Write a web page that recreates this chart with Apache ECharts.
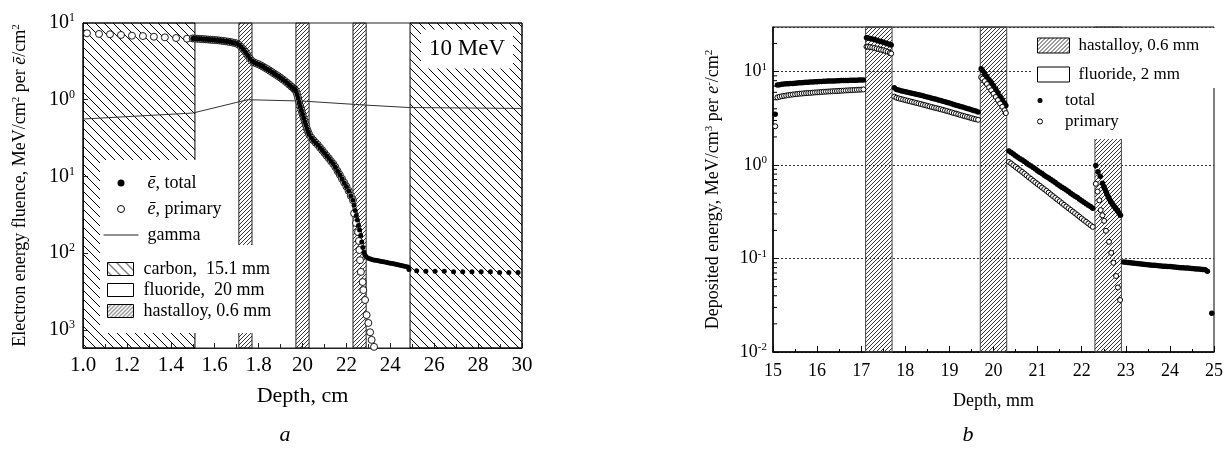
<!DOCTYPE html>
<html><head><meta charset="utf-8">
<script src="https://cdn.jsdelivr.net/npm/echarts@6/dist/echarts.min.js"></script>
<style>html,body{margin:0;padding:0;background:#fff}#c{width:1230px;height:450px}</style>
</head><body><div id="c"></div>
<script>
// ================= Panel a =================
const xTickLabelsA = ['1.0','1.2','1.4','1.6','1.8','20','22','24','26','28','30'];
const yTickValuesA = [0.001, 0.01, 0.1, 1, 10];
const yTickExpA = ['3','2','1','0','1'];
const carbonBandsA = [[1.0, 1.51], [2.49, 3.0]];
const hastBandsA = [[1.71, 1.77], [1.97, 2.03], [2.23, 2.29]];

const primarySparseXA = [1.018,1.073,1.123,1.173,1.223,1.273,1.323,1.373,1.424,1.474];
const primarySparseYA = [7.35,7.2,7.13,6.98,6.83,6.76,6.62,6.5,6.37,6.24];

const electronDenseXA = [1.50,1.51,1.52,1.53,1.54,1.55,1.56,1.57,1.58,1.59,1.60,1.61,1.62,1.63,1.64,1.65,1.66,1.67,1.68,1.69,1.70,1.71,1.72,1.73,1.74,1.75,1.76,1.77,1.78,1.79,1.80,1.81,1.82,1.83,1.84,1.85,1.86,1.87,1.88,1.89,1.90,1.91,1.92,1.93,1.94,1.95,1.96,1.965,1.97,1.975,1.98,1.985,1.99,1.995,2.00,2.005,2.01,2.015,2.02,2.025,2.03,2.04,2.05,2.06,2.07,2.08,2.09,2.10,2.11,2.12,2.13,2.14,2.15,2.16,2.17,2.18,2.19,2.20,2.21,2.22,2.23];
const electronDenseYA = [6.30,6.27,6.24,6.21,6.18,6.15,6.12,6.09,6.06,6.03,6.00,5.96,5.92,5.88,5.83,5.78,5.72,5.65,5.58,5.50,5.40,5.20,4.90,4.55,4.20,3.80,3.45,3.20,3.05,2.97,2.90,2.80,2.70,2.60,2.50,2.40,2.30,2.20,2.11,2.02,1.93,1.84,1.75,1.66,1.57,1.48,1.40,1.36,1.30,1.18,1.05,0.93,0.82,0.73,0.65,0.58,0.52,0.47,0.42,0.385,0.355,0.32,0.295,0.275,0.257,0.237,0.219,0.202,0.186,0.172,0.158,0.146,0.132,0.117,0.105,0.093,0.083,0.074,0.065,0.056,0.049];

const primaryTailXA = [2.235,2.244,2.253,2.257,2.259,2.262,2.266,2.274,2.277,2.285,2.292,2.300,2.308,2.315,2.326];
const primaryTailYA = [0.033,0.0247,0.0188,0.0144,0.011,0.0081,0.0057,0.0042,0.0033,0.00245,0.00156,0.00123,0.00093,0.00074,0.0006];

const totalTailXA = [2.235,2.24,2.245,2.25,2.255,2.26,2.265,2.27,2.275,2.28,2.285,2.29,2.30,2.31,2.32,2.33,2.34,2.35,2.36,2.37,2.38,2.39,2.40,2.41,2.42,2.43,2.44,2.45,2.46,2.47,2.48,2.485];
const totalTailYA = [0.042,0.036,0.031,0.027,0.023,0.020,0.017,0.014,0.0118,0.0102,0.0094,0.0090,0.0086,0.0084,0.0082,0.0081,0.0080,0.0079,0.0078,0.0077,0.0076,0.0075,0.0074,0.0073,0.0072,0.0071,0.0070,0.0069,0.0068,0.0067,0.0066,0.0061];

const totalSparseXA = [2.52,2.562,2.604,2.646,2.688,2.73,2.772,2.814,2.856,2.898,2.94,2.982];
const totalSparseYA = [0.0059,0.0058,0.0058,0.0058,0.0057,0.0057,0.0057,0.0057,0.0057,0.0056,0.0056,0.0056];

const gammaXA = [1.0,1.5,1.75,2.0,2.29,2.49,3.0];
const gammaYA = [0.56,0.67,1.0,0.96,0.85,0.79,0.77];

// ================= Panel b =================
const yTickValuesB = [0.01, 0.1, 1, 10];
const yTickExpB = ['-2','-1','0','1'];
const minorTickValuesB = [0.02,0.03,0.04,0.05,0.06,0.07,0.08,0.09,0.2,0.3,0.4,0.5,0.6,0.7,0.8,0.9,2,3,4,5,6,7,8,9,20];
const hastBandsB = [[17.1, 17.7], [19.7, 20.3], [22.3, 22.9]];

// depths shared by the total and primary curves
const segX1B = [15.1,15.15,15.2,15.25,15.3,15.35,15.4,15.45,15.5,15.55,15.6,15.65,15.7,15.75,15.8,15.85,15.9,15.95,16.0,16.05,16.1,16.15,16.2,16.25,16.3,16.35,16.4,16.45,16.5,16.55,16.6,16.65,16.7,16.75,16.8,16.85,16.9,16.95,17.0,17.05];
const segX2B = [17.12,17.15,17.2,17.25,17.3,17.35,17.4,17.45,17.5,17.55,17.6,17.65,17.68];
const segX3B = [17.75,17.8,17.85,17.9,17.95,18.0,18.05,18.1,18.15,18.2,18.25,18.3,18.35,18.4,18.45,18.5,18.55,18.6,18.65,18.7,18.75,18.8,18.85,18.9,18.95,19.0,19.05,19.1,19.15,19.2,19.25,19.3,19.35,19.4,19.45,19.5,19.55,19.6,19.65];
const segX4B = [19.72,19.75,19.8,19.85,19.9,19.95,20.0,20.05,20.1,20.15,20.2,20.25,20.28];
const segX5B = [20.35,20.4,20.45,20.5,20.55,20.6,20.65,20.7,20.75,20.8,20.85,20.9,20.95,21.0,21.05,21.1,21.15,21.2,21.25,21.3,21.35,21.4,21.45,21.5,21.55,21.6,21.65,21.7,21.75,21.8,21.85,21.9,21.95,22.0,22.05,22.1,22.15,22.2,22.25];

const totalY1B = [7.2,7.25,7.3,7.35,7.4,7.42,7.45,7.48,7.5,7.55,7.6,7.62,7.65,7.68,7.7,7.72,7.75,7.78,7.8,7.82,7.85,7.88,7.9,7.91,7.92,7.94,7.95,7.98,8.0,8.01,8.02,8.04,8.05,8.07,8.08,8.09,8.1,8.11,8.12,8.15];
const totalY2B = [23.0,22.9,22.6,22.3,22.0,21.7,21.3,21.0,20.6,20.25,19.9,19.5,19.3];
const totalY3B = [6.70,6.45,6.35,6.25,6.17,6.1,6.02,5.95,5.87,5.8,5.72,5.65,5.57,5.5,5.42,5.35,5.27,5.2,5.12,5.05,4.97,4.9,4.82,4.75,4.67,4.6,4.52,4.45,4.37,4.3,4.23,4.17,4.1,4.04,3.97,3.91,3.84,3.78,3.70];
const totalY4B = [10.7,10.3,9.5,8.85,8.2,7.65,7.1,6.5,5.95,5.45,5.0,4.6,4.35];
const totalY5B = [1.41,1.36,1.31,1.26,1.21,1.17,1.13,1.09,1.05,1.01,0.975,0.94,0.905,0.87,0.84,0.81,0.78,0.75,0.725,0.70,0.675,0.65,0.625,0.60,0.58,0.56,0.54,0.52,0.50,0.48,0.465,0.45,0.432,0.415,0.40,0.385,0.372,0.36,0.345];
const totalBand3XB = [22.32,22.37,22.42,22.47,22.5,22.52,22.55,22.57,22.6,22.62,22.65,22.67,22.7,22.72,22.75,22.77,22.8,22.82,22.85,22.88];
const totalBand3YB = [0.99,0.85,0.76,0.64,0.59,0.56,0.52,0.49,0.46,0.44,0.415,0.40,0.38,0.37,0.355,0.345,0.33,0.32,0.305,0.29];
const totalTailXB = [22.95,23.0,23.05,23.1,23.15,23.2,23.25,23.3,23.35,23.4,23.45,23.5,23.55,23.6,23.65,23.7,23.75,23.8,23.85,23.9,23.95,24.0,24.05,24.1,24.15,24.2,24.25,24.3,24.35,24.4,24.45,24.5,24.55,24.6,24.65,24.7,24.75,24.8,24.85,24.95];
const totalTailYB = [0.092,0.091,0.0905,0.090,0.0895,0.089,0.0885,0.088,0.0875,0.087,0.0865,0.086,0.0855,0.085,0.0845,0.084,0.0835,0.083,0.0828,0.0825,0.0822,0.082,0.0815,0.081,0.0805,0.080,0.0798,0.0795,0.0792,0.079,0.0785,0.078,0.0778,0.0775,0.0772,0.077,0.0765,0.076,0.073,0.026];
const totalFirstB = [15.05, 3.5];

const primaryY1B = [5.3,5.38,5.45,5.5,5.55,5.6,5.65,5.69,5.72,5.76,5.8,5.82,5.85,5.88,5.9,5.92,5.95,5.98,6.0,6.02,6.05,6.08,6.1,6.12,6.14,6.16,6.18,6.2,6.22,6.24,6.26,6.28,6.3,6.32,6.34,6.36,6.38,6.4,6.42,6.45];
const primaryY2B = [18.5,18.45,18.3,18.1,17.9,17.65,17.4,17.15,16.9,16.6,16.3,15.9,15.6];
const primaryY3B = [5.4,5.25,5.17,5.1,5.02,4.95,4.88,4.82,4.75,4.69,4.62,4.56,4.5,4.43,4.37,4.3,4.24,4.18,4.12,4.07,4.01,3.96,3.9,3.84,3.78,3.72,3.66,3.6,3.55,3.49,3.43,3.38,3.33,3.28,3.23,3.18,3.13,3.09,3.05];
const primaryY4B = [8.7,8.4,7.9,7.35,6.8,6.3,5.8,5.35,4.95,4.55,4.2,3.85,3.6];
const primaryY5B = [1.08,1.04,0.995,0.955,0.917,0.88,0.845,0.81,0.775,0.74,0.71,0.68,0.652,0.625,0.6,0.575,0.552,0.53,0.507,0.485,0.465,0.445,0.427,0.41,0.392,0.375,0.36,0.345,0.331,0.318,0.305,0.292,0.28,0.268,0.257,0.247,0.237,0.227,0.218];
const primaryBand3XB = [22.32,22.36,22.40,22.43,22.47,22.51,22.55,22.62,22.67,22.72,22.78,22.82,22.87];
const primaryBand3YB = [0.63,0.52,0.42,0.33,0.29,0.253,0.198,0.151,0.115,0.090,0.065,0.049,0.036];
const primaryFirstB = [15.05, 2.6];

// ================= helpers =================
const FONT = "'Liberation Serif','Times New Roman',serif";
function zip(xs, ys) { return xs.map((x, i) => [x, ys[i]]); }
function hatch(size, dir, color, lw) {
  const c = document.createElement('canvas'); c.width = size; c.height = size;
  const g = c.getContext('2d'); g.strokeStyle = color; g.lineWidth = lw; g.beginPath();
  if (dir === 'back') {
    g.moveTo(-1, -1); g.lineTo(size + 1, size + 1);
    g.moveTo(-1, size - 1); g.lineTo(1, size + 1);
    g.moveTo(size - 1, -1); g.lineTo(size + 1, 1);
  } else {
    g.moveTo(-1, size + 1); g.lineTo(size + 1, -1);
    g.moveTo(-1, 1); g.lineTo(1, -1);
    g.moveTo(size - 1, size + 1); g.lineTo(size + 1, size - 1);
  }
  g.stroke(); return c;
}
const carbonPat = { image: hatch(9, 'back', '#000', 1), repeat: 'repeat' };
const hastPat = { image: hatch(4, 'fwd', '#222', 0.9), repeat: 'repeat' };
function expLabel(values, exps) {
  return function (v) {
    const i = values.findIndex(t => Math.abs(Math.log10(t) - Math.log10(v)) < 1e-6);
    return i >= 0 ? '10{s|' + exps[i] + '}' : '';
  };
}
const bands = arr => arr.map(b => [{ xAxis: b[0] }, { xAxis: b[1] }]);

const totalDataB = [totalFirstB].concat(
  zip(segX1B, totalY1B), zip(segX2B, totalY2B), zip(segX3B, totalY3B), zip(segX4B, totalY4B), zip(segX5B, totalY5B),
  zip(totalBand3XB, totalBand3YB), zip(totalTailXB, totalTailYB));
const primaryDataB = [primaryFirstB].concat(
  zip(segX1B, primaryY1B), zip(segX2B, primaryY2B), zip(segX3B, primaryY3B), zip(segX4B, primaryY4B), zip(segX5B, primaryY5B),
  zip(primaryBand3XB, primaryBand3YB));

const chart = echarts.init(document.getElementById('c'), null, { renderer: 'canvas' });
const txt = { fontFamily: FONT, color: '#000' };

const option = {
  animation: false,
  textStyle: { fontFamily: FONT },
  grid: [
    { left: 83, top: 23, width: 439, height: 325, show: true, borderColor: '#222', borderWidth: 1, backgroundColor: 'transparent' },
    { left: 773, top: 27, width: 441, height: 325, show: true, borderColor: '#000', borderWidth: 1, backgroundColor: 'transparent' }
  ],
  xAxis: [
    { gridIndex: 0, type: 'value', min: 1, max: 3, interval: 0.2,
      axisLine: { lineStyle: { color: '#222', width: 1 } },
      axisTick: { inside: true, length: 5, lineStyle: { color: '#222' } },
      minorTick: { show: true, splitNumber: 2, length: 4, lineStyle: { color: '#222' } },
      splitLine: { show: false },
      axisLabel: Object.assign({ fontSize: 21, margin: 7, formatter: v => xTickLabelsA[Math.round((v - 1) / 0.2)] }, txt),
      name: 'Depth, cm', nameLocation: 'middle', nameGap: 37,
      nameTextStyle: Object.assign({ fontSize: 22 }, txt) },
    { gridIndex: 1, type: 'value', min: 15, max: 25, interval: 1,
      axisLine: { lineStyle: { color: '#000', width: 1.5 } },
      axisTick: { inside: true, length: 6, lineStyle: { color: '#000' } },
      minorTick: { show: true, splitNumber: 2, length: 3, lineStyle: { color: '#000' } },
      splitLine: { show: false },
      axisLabel: Object.assign({ fontSize: 18, margin: 10 }, txt),
      name: 'Depth, mm', nameLocation: 'middle', nameGap: 40,
      nameTextStyle: Object.assign({ fontSize: 18 }, txt) }
  ],
  yAxis: [
    { gridIndex: 0, type: 'log', logBase: 10, min: 0.00058, max: 10, splitNumber: 4,
      axisLine: { lineStyle: { color: '#222', width: 1 } },
      axisTick: { inside: true, length: 5, lineStyle: { color: '#222' } },
      splitLine: { show: false },
      axisLabel: Object.assign({ fontSize: 20, lineHeight: 22, margin: 8, showMinLabel: false,
        formatter: expLabel(yTickValuesA, yTickExpA),
        rich: { s: { fontSize: 12, lineHeight: 12, verticalAlign: 'top', fontFamily: FONT, color: '#000' } } }, txt),
      name: 'Electron energy fluence, MeV/cm{s|2} per {i|ē}/cm{s|2}', nameLocation: 'middle', nameGap: 54,
      nameTextStyle: Object.assign({ fontSize: 18,
        rich: { s: { fontSize: 11, lineHeight: 11, verticalAlign: 'top', fontFamily: FONT, color: '#000' },
                i: { fontSize: 18, fontStyle: 'italic', fontFamily: FONT, color: '#000' } } }, txt) },
    { gridIndex: 1, type: 'log', logBase: 10, min: 0.01, max: 30, interval: 1,
      axisLine: { lineStyle: { color: '#000', width: 1.5 } },
      axisTick: { inside: true, length: 6, lineStyle: { color: '#000' } },
      splitLine: { show: true, lineStyle: { color: '#333', type: [2, 2], width: 1 } },
      axisLabel: Object.assign({ fontSize: 18, lineHeight: 20, margin: 6, showMaxLabel: false,
        formatter: expLabel(yTickValuesB, yTickExpB),
        rich: { s: { fontSize: 11, lineHeight: 11, verticalAlign: 'top', fontFamily: FONT, color: '#000' } } }, txt),
      name: 'Deposited energy, MeV/cm{s|3} per {i|e}{s|-}/cm{s|2}', nameLocation: 'middle', nameGap: 51,
      nameTextStyle: Object.assign({ fontSize: 18,
        rich: { s: { fontSize: 11, lineHeight: 11, verticalAlign: 'top', fontFamily: FONT, color: '#000' },
                i: { fontSize: 18, fontStyle: 'italic', fontFamily: FONT, color: '#000' } } }, txt) }
  ],
  legend: [
    { orient: 'vertical', left: 100, top: 160, selectedMode: false, backgroundColor: '#fff',
      padding: [13, 8, 6, 3], itemWidth: 35, itemHeight: 7, itemGap: 6,
      textStyle: { fontSize: 18, lineHeight: 20, fontFamily: FONT, color: '#000', padding: [0, 0, 0, 4],
        rich: { i: { fontSize: 18, fontStyle: 'italic', fontFamily: FONT, color: '#000' } } },
      formatter: n => n.replace('ē', '{i|ē}'),
      data: [
        { name: 'ē, total', icon: 'circle', itemStyle: { color: '#000', borderWidth: 0 } },
        { name: 'ē, primary', icon: 'circle', itemStyle: { color: '#fff', borderColor: '#000', borderWidth: 1 } },
        { name: 'gamma', itemStyle: { opacity: 0 }, lineStyle: { color: '#222', width: 1 } }
      ] },
    { orient: 'vertical', left: 100, top: 245, selectedMode: false, backgroundColor: '#fff',
      padding: [15, 10, 13, 7], itemWidth: 26, itemHeight: 13, itemGap: 3,
      textStyle: { fontSize: 18, lineHeight: 18, fontFamily: FONT, color: '#000', padding: [0, 0, 0, 5] },
      data: [
        { name: 'carbon,  15.1 mm', icon: 'rect', itemStyle: { color: carbonPat, borderColor: '#000', borderWidth: 1 } },
        { name: 'fluoride,  20 mm', icon: 'rect', itemStyle: { color: '#fff', borderColor: '#000', borderWidth: 1 } },
        { name: 'hastalloy, 0.6 mm', icon: 'rect', itemStyle: { color: hastPat, borderColor: '#000', borderWidth: 1 } }
      ] },
    { orient: 'vertical', left: 1033, top: 28, selectedMode: false, backgroundColor: '#fff',
      padding: [9, 14, 5, 4], itemWidth: 32, itemHeight: 15, itemGap: 12,
      textStyle: { fontSize: 17, lineHeight: 17, fontFamily: FONT, color: '#000', padding: [0, 0, 0, 4] },
      data: [
        { name: 'hastalloy, 0.6 mm ', icon: 'rect', itemStyle: { color: hastPat, borderColor: '#000', borderWidth: 1 } },
        { name: 'fluoride, 2 mm', icon: 'rect', itemStyle: { color: '#fff', borderColor: '#000', borderWidth: 1 } }
      ] },
    { orient: 'vertical', left: 1033, top: 88, selectedMode: false, backgroundColor: '#fff',
      padding: [4, 86, 9, 4], itemWidth: 32, itemHeight: 5, itemGap: 4,
      textStyle: { fontSize: 17, lineHeight: 17, fontFamily: FONT, color: '#000', padding: [0, 0, 0, 4] },
      data: [
        { name: 'total', icon: 'circle', itemStyle: { color: '#000', borderWidth: 0 } },
        { name: 'primary', icon: 'circle', itemStyle: { color: '#fff', borderColor: '#000', borderWidth: 1 } }
      ] }
  ],
  graphic: [
    { type: 'text', x: 467, y: 49, z: 100, style: { text: '10 MeV', font: '23px ' + FONT, fill: '#000',
      align: 'center', verticalAlign: 'middle', backgroundColor: '#fff', padding: [8, 8] } },
    { type: 'text', x: 285, y: 435, z: 100, style: { text: 'a', font: 'italic 22px ' + FONT, fill: '#000', align: 'center', verticalAlign: 'middle' } },
    { type: 'text', x: 968, y: 435, z: 100, style: { text: 'b', font: 'italic 22px ' + FONT, fill: '#000', align: 'center', verticalAlign: 'middle' } }
  ],
  series: [
    // ---- panel a material bands ----
    { name: 'carbon,  15.1 mm', type: 'line', xAxisIndex: 0, yAxisIndex: 0, data: [], z: 1, silent: true,
      markArea: { silent: true, itemStyle: { color: carbonPat, borderColor: '#000', borderWidth: 1 }, data: bands(carbonBandsA) } },
    { name: 'fluoride,  20 mm', type: 'line', xAxisIndex: 0, yAxisIndex: 0, data: [], z: 1, silent: true },
    { name: 'hastalloy, 0.6 mm', type: 'line', xAxisIndex: 0, yAxisIndex: 0, data: [], z: 1, silent: true,
      markArea: { silent: true, itemStyle: { color: hastPat, borderColor: '#222', borderWidth: 1 }, data: bands(hastBandsA) } },
    // ---- panel a data ----
    { name: 'gamma', type: 'line', xAxisIndex: 0, yAxisIndex: 0, z: 3, symbol: 'none', silent: true,
      lineStyle: { color: '#333', width: 1 }, data: zip(gammaXA, gammaYA) },
    { name: 'ē, primary', type: 'scatter', xAxisIndex: 0, yAxisIndex: 0, z: 3, symbol: 'circle', symbolSize: 7, silent: true,
      itemStyle: { color: '#fff', borderColor: '#000', borderWidth: 0.9, opacity: 1 },
      data: zip(primarySparseXA, primarySparseYA).concat(zip(electronDenseXA, electronDenseYA), zip(primaryTailXA, primaryTailYA)) },
    { name: 'ē, total', type: 'scatter', xAxisIndex: 0, yAxisIndex: 0, z: 3, symbol: 'circle', symbolSize: 5, silent: true,
      itemStyle: { color: '#000', opacity: 1 },
      data: zip(electronDenseXA, electronDenseYA).concat(zip(totalTailXA, totalTailYA), zip(totalSparseXA, totalSparseYA)) },
    // ---- panel b bands ----
    { name: 'hastalloy, 0.6 mm ', type: 'line', xAxisIndex: 1, yAxisIndex: 1, data: [], z: 1, silent: true,
      markArea: { silent: true, itemStyle: { color: hastPat, borderColor: '#444', borderWidth: 1 }, data: bands(hastBandsB) } },
    { name: 'fluoride, 2 mm', type: 'line', xAxisIndex: 1, yAxisIndex: 1, data: [], z: 1, silent: true },
    // ---- panel b data ----
    { name: 'total', type: 'scatter', xAxisIndex: 1, yAxisIndex: 1, z: 3, symbol: 'circle', symbolSize: 5.5, silent: true,
      itemStyle: { color: '#000', opacity: 1 }, data: totalDataB },
    { name: 'primary', type: 'scatter', xAxisIndex: 1, yAxisIndex: 1, z: 3, symbol: 'circle', symbolSize: 5, silent: true,
      itemStyle: { color: '#fff', borderColor: '#000', borderWidth: 1, opacity: 1 }, data: primaryDataB },
    { type: 'custom', xAxisIndex: 1, yAxisIndex: 1, z: 3, silent: true, clip: false,
      data: minorTickValuesB.map(v => [15, v]),
      renderItem: function (params, api) {
        const p = api.coord([api.value(0), api.value(1)]);
        return { type: 'line', shape: { x1: p[0], y1: p[1], x2: p[0] + 4, y2: p[1] }, style: { stroke: '#000', lineWidth: 1 } };
      } }
  ]
};
chart.setOption(option);
</script>
</body></html>
